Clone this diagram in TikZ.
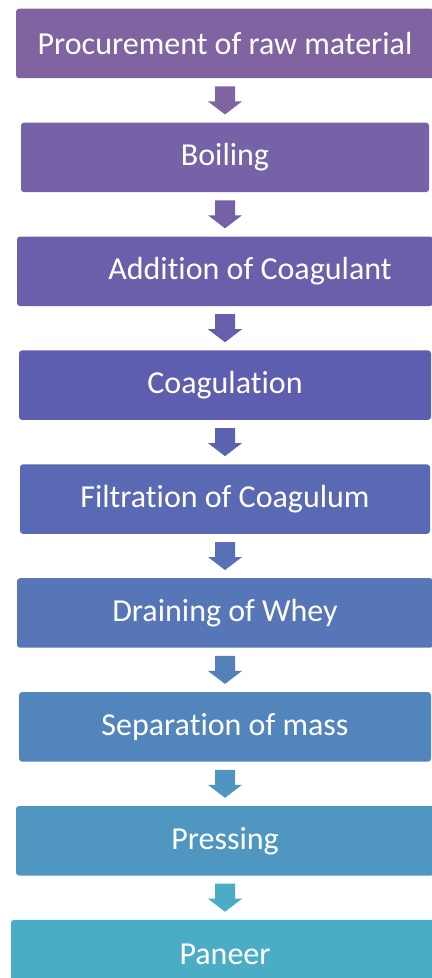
\documentclass[tikz,border=0pt]{standalone}
\usepackage{fontspec}
\setmainfont{Carlito}[Ligatures=NoCommon]
\usetikzlibrary{positioning,calc}
\definecolor{c1}{RGB}{128,100,162}
\definecolor{c2}{RGB}{118,98,166}
\definecolor{c3}{RGB}{106,95,171}
\definecolor{c4}{RGB}{93,94,175}
\definecolor{c5}{RGB}{90,105,180}
\definecolor{c6}{RGB}{86,118,184}
\definecolor{c7}{RGB}{83,133,189}
\definecolor{c8}{RGB}{79,151,193}
\definecolor{c9}{RGB}{75,172,198}
\definecolor{a1}{RGB}{128,100,162}
\definecolor{a2}{RGB}{116,97,167}
\definecolor{a3}{RGB}{102,95,172}
\definecolor{a4}{RGB}{91,98,177}
\definecolor{a5}{RGB}{88,112,182}
\definecolor{a6}{RGB}{84,129,188}
\definecolor{a7}{RGB}{80,148,193}
\definecolor{a8}{RGB}{75,172,198}
\begin{document}
\begin{tikzpicture}[node distance=44bp,
    box/.style={rounded corners=3bp, minimum height=69.5bp, inner sep=0pt, text=white, font=\fontsize{32bp}{36bp}\selectfont},
    flow/.style={to path={let \p1=(\tikztostart.south), \p2=(\tikztotarget.north) in
      (\x1-10bp,\y1-8bp) -- (\x1+10bp,\y1-8bp) -- (\x1+10bp,\y2+21bp) -- (\x1+17bp,\y2+21bp)
      -- (\x1,\y2+8bp) -- (\x1-17bp,\y2+21bp) -- (\x1-10bp,\y2+21bp) -- cycle}}]
    \useasboundingbox (0,0) rectangle (432bp,978bp);
    \clip (0,0) rectangle (432bp,978bp);

    \node (b1) [box, fill=c1, minimum width=418bp] at (225bp,934.5bp) {Procurement of raw material};
    \node (b2) [box, fill=c2, minimum width=408bp, below=of b1] {Boiling};
    \node (b3) [box, fill=c3, minimum width=416bp, below=of b2] {\hspace*{50bp}Addition of Coagulant};
    \node (b4) [box, fill=c4, minimum width=412bp, below=of b3] {Coagulation};
    \node (b5) [box, fill=c5, minimum width=410bp, below=of b4] {Filtration of Coagulum};
    \node (b6) [box, fill=c6, minimum width=416bp, below=of b5] {Draining of Whey};
    \node (b7) [box, fill=c7, minimum width=412bp, below=of b6] {Separation of mass};
    \node (b8) [box, fill=c8, minimum width=418bp, below=of b7] {Pressing};
    \node (b9) [box, fill=c9, minimum width=428bp, below=of b8] {Paneer};

    \path[flow, fill=a1] (b1) to (b2);
    \path[flow, fill=a2] (b2) to (b3);
    \path[flow, fill=a3] (b3) to (b4);
    \path[flow, fill=a4] (b4) to (b5);
    \path[flow, fill=a5] (b5) to (b6);
    \path[flow, fill=a6] (b6) to (b7);
    \path[flow, fill=a7] (b7) to (b8);
    \path[flow, fill=a8] (b8) to (b9);
\end{tikzpicture}
\end{document}
